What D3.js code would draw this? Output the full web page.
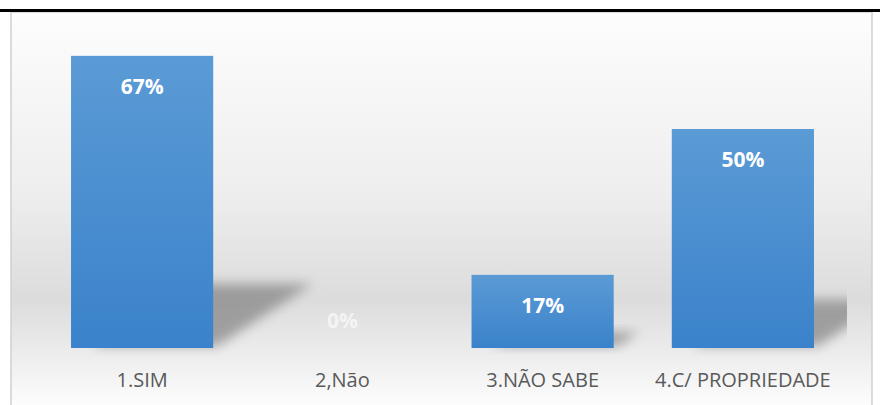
<!DOCTYPE html>
<html>
<head>
<meta charset="utf-8">
<script src="https://cdn.jsdelivr.net/npm/d3@7"></script>
<style>
  html, body { margin: 0; padding: 0; background: #fff; }
  svg { display: block; }
</style>
</head>
<body>
<script>
var categories = ["1.SIM", "2,Não", "3.NÃO SABE", "4.C/ PROPRIEDADE"];
var values = [0.667, 0, 0.167, 0.5];
var valueLabels = ["67%", "0%", "17%", "50%"];

var width = 880, height = 405;
var base = 348;

var svg = d3.select("body").append("svg")
    .attr("width", width)
    .attr("height", height);

var defs = svg.append("defs");

var bg = defs.append("linearGradient").attr("id", "bg")
    .attr("x1", 0).attr("y1", 0).attr("x2", 0).attr("y2", 1);
bg.append("stop").attr("offset", "0%").attr("stop-color", "#fdfdfd");
bg.append("stop").attr("offset", "45%").attr("stop-color", "#eeeeee");
bg.append("stop").attr("offset", "72%").attr("stop-color", "#dcdcdc");
bg.append("stop").attr("offset", "90%").attr("stop-color", "#f2f2f2");
bg.append("stop").attr("offset", "100%").attr("stop-color", "#ffffff");

var barGrad = defs.append("linearGradient").attr("id", "barGrad")
    .attr("x1", 0).attr("y1", 0).attr("x2", 0).attr("y2", 1);
barGrad.append("stop").attr("offset", "0%").attr("stop-color", "#5b9bd5");
barGrad.append("stop").attr("offset", "100%").attr("stop-color", "#3a82cb");

defs.append("filter").attr("id", "blur")
    .attr("x", "-50%").attr("y", "-50%").attr("width", "200%").attr("height", "200%")
  .append("feGaussianBlur").attr("stdDeviation", 6);

defs.append("clipPath").attr("id", "plotClip")
  .append("rect").attr("x", 12).attr("y", 12).attr("width", 835).attr("height", 345);

// frame + background
svg.append("rect")
    .attr("x", 11).attr("y", 12)
    .attr("width", 861).attr("height", 400)
    .attr("fill", "url(#bg)")
    .attr("stroke", "#d0d0d0")
    .attr("stroke-width", 1.5);

svg.append("rect")
    .attr("x", 0).attr("y", 9)
    .attr("width", width).attr("height", 3)
    .attr("fill", "#000");

var x = d3.scaleBand()
    .domain(categories)
    .range([42, 843])
    .paddingInner(0.29)
    .paddingOuter(0.145);

var y = d3.scaleLinear()
    .domain([0, 1])
    .range([base, base - 438]);

var data = categories.map(function(c, i) {
    return { cat: c, v: values[i], label: valueLabels[i] };
});

// cast shadows
svg.append("g")
    .attr("clip-path", "url(#plotClip)")
    .selectAll("polygon")
    .data(data.filter(function(d) { return d.v > 0; }))
    .enter().append("polygon")
    .attr("points", function(d) {
        var x0 = x(d.cat), x1 = x0 + x.bandwidth();
        var h = base - y(d.v);
        var dx = 0.34 * h, dy = 0.22 * h;
        return [
            [x0 + 20, base - 2],
            [x0 + 20 + dx, base - dy],
            [x1 + dx, base - dy],
            [x1 + 4, base - 2]
        ].map(function(p) { return p.join(","); }).join(" ");
    })
    .attr("fill", "#7a7a7a")
    .attr("opacity", 0.65)
    .attr("filter", "url(#blur)");

// bars
svg.append("g")
    .selectAll("rect")
    .data(data)
    .enter().append("rect")
    .attr("x", function(d) { return x(d.cat); })
    .attr("y", function(d) { return y(d.v); })
    .attr("width", x.bandwidth())
    .attr("height", function(d) { return base - y(d.v); })
    .attr("fill", "url(#barGrad)");

// value labels
svg.append("g")
    .selectAll("text")
    .data(data)
    .enter().append("text")
    .attr("x", function(d) { return x(d.cat) + x.bandwidth() / 2; })
    .attr("y", function(d) { return d.v > 0 ? y(d.v) + 38 : base - 20; })
    .attr("text-anchor", "middle")
    .attr("font-family", "'Open Sans', sans-serif")
    .attr("font-weight", "bold")
    .attr("font-size", "21px")
    .attr("fill", function(d) { return d.v > 0 ? "#ffffff" : "#f4f4f4"; })
    .text(function(d) { return d.label; });

// category labels
svg.append("g")
    .selectAll("text")
    .data(data)
    .enter().append("text")
    .attr("x", function(d) { return x(d.cat) + x.bandwidth() / 2; })
    .attr("y", 387)
    .attr("text-anchor", "middle")
    .attr("font-family", "'Open Sans', sans-serif")
    .attr("font-size", "20px")
    .attr("fill", "#595959")
    .text(function(d) { return d.cat; });
</script>
</body>
</html>
